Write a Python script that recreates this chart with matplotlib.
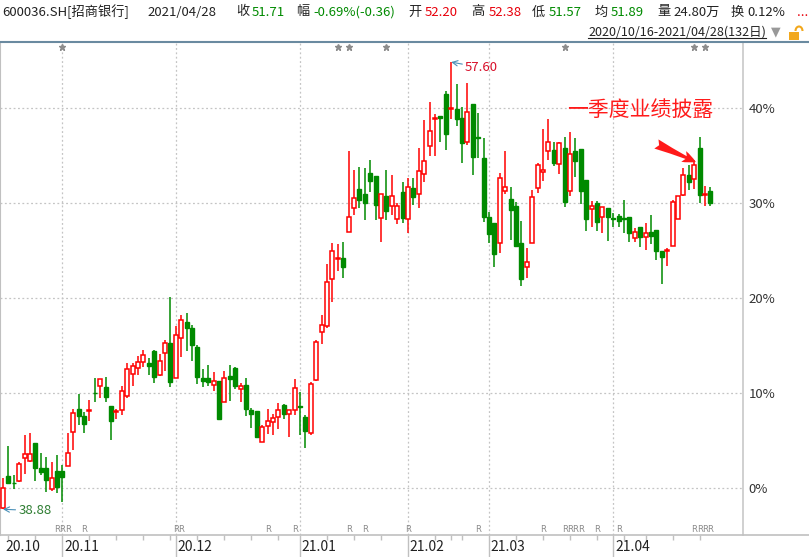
import numpy as np
import pandas as pd
import matplotlib
matplotlib.use("Agg")
from matplotlib import pyplot as plt
from matplotlib.lines import Line2D
from matplotlib.patches import Rectangle, Arc
import matplotlib.transforms as mtransforms

plt.rcParams['font.family'] = ['Noto Sans CJK SC', 'DejaVu Sans']

# ---- data: 600036.SH daily candles 2020/10/16 - 2021/04/28 (132 days)
open_ = [38.95, 40.27, 40.00, 40.06, 41.03, 40.90, 41.65, 40.61, 40.61, 39.73,
         40.48, 40.48, 40.69, 42.11, 43.08, 42.78, 43.01, 43.75, 44.04, 44.00,
         43.20, 42.97, 43.04, 43.62, 44.54, 44.79, 45.04, 45.00, 45.51, 44.50,
         45.42, 45.84, 44.37, 46.05, 46.72, 46.47, 45.67, 44.37, 44.37, 44.08,
         44.25, 43.37, 44.46, 44.79, 43.91, 44.08, 43.04, 42.99, 41.70, 42.36,
         42.53, 42.74, 43.24, 42.87, 43.04, 43.22, 42.74, 42.07, 44.29, 46.30,
         46.55, 48.52, 49.34, 49.40, 50.49, 51.49, 52.29, 52.08, 52.96, 52.83,
         51.07, 52.00, 51.58, 51.03, 52.16, 51.03, 52.33, 52.08, 52.91, 54.09,
         55.20, 55.34, 56.26, 55.64, 55.64, 55.26, 54.25, 55.85, 54.48, 53.58,
         51.11, 50.86, 50.03, 52.20, 51.87, 51.58, 50.03, 49.02, 50.03, 52.33,
         53.00, 53.88, 53.92, 53.33, 54.00, 52.20, 53.88, 53.96, 52.66, 51.45,
         51.70, 51.11, 51.49, 51.07, 51.16, 51.09, 51.11, 50.24, 50.70, 50.28,
         50.49, 50.57, 49.69, 49.69, 49.90, 51.03, 52.04, 52.87, 52.71, 54.00,
         52.02, 52.20]
close = [39.77, 39.98, 39.96, 40.77, 41.19, 41.19, 40.61, 40.44, 40.10, 40.19,
         39.81, 40.23, 41.24, 42.91, 42.78, 42.45, 43.04, 43.73, 44.33, 43.58,
         42.57, 42.99, 43.83, 44.75, 44.88, 45.04, 45.34, 44.88, 44.42, 45.09,
         45.84, 44.21, 46.17, 46.80, 46.47, 45.76, 44.42, 44.25, 44.21, 44.25,
         42.66, 44.37, 44.33, 44.04, 44.04, 43.08, 42.87, 41.90, 42.32, 42.57,
         42.70, 43.04, 42.87, 43.04, 43.96, 43.18, 42.16, 44.12, 45.88, 46.59,
         48.39, 49.69, 49.40, 49.02, 51.11, 51.91, 51.83, 51.70, 52.62, 51.62,
         52.08, 51.37, 52.00, 51.58, 51.07, 52.37, 51.95, 53.04, 53.46, 54.71,
         55.26, 55.28, 54.59, 55.68, 55.22, 54.21, 55.51, 53.63, 54.44, 51.11,
         50.40, 49.57, 52.75, 52.37, 51.41, 49.90, 48.52, 49.23, 51.95, 53.29,
         53.08, 54.25, 53.38, 54.21, 51.74, 53.75, 53.46, 52.20, 51.03, 51.58,
         50.90, 51.53, 51.11, 51.05, 50.95, 51.05, 50.44, 50.49, 50.28, 50.44,
         50.32, 49.69, 49.44, 49.73, 51.74, 52.00, 52.87, 52.58, 53.29, 52.04,
         52.07, 51.71]
high = [40.19, 41.53, 40.31, 40.86, 41.99, 42.07, 41.65, 41.24, 41.07, 40.86,
        41.15, 40.73, 42.07, 43.08, 43.70, 42.95, 43.45, 44.37, 44.33, 44.42,
        43.20, 43.08, 44.04, 45.00, 45.00, 45.30, 45.55, 45.21, 45.55, 45.38,
        45.97, 47.77, 46.55, 47.01, 47.10, 46.59, 45.76, 44.75, 44.92, 44.63,
        44.25, 44.67, 44.92, 44.84, 44.17, 44.37, 43.12, 42.99, 42.41, 43.08,
        42.87, 43.33, 43.29, 43.04, 44.33, 43.79, 42.83, 44.21, 45.97, 47.01,
        49.15, 50.03, 49.98, 50.07, 53.88, 53.08, 53.21, 53.17, 53.50, 52.83,
        52.08, 53.08, 52.87, 51.70, 52.58, 52.75, 52.75, 54.00, 55.18, 55.93,
        55.43, 55.34, 56.39, 57.60, 56.68, 55.72, 56.72, 55.85, 55.47, 54.42,
        51.33, 50.86, 52.96, 53.88, 52.37, 51.74, 50.95, 49.82, 52.24, 53.38,
        54.80, 55.22, 54.25, 54.25, 54.46, 54.67, 54.42, 53.96, 52.66, 51.78,
        51.78, 51.53, 51.49, 51.28, 51.24, 51.83, 51.11, 50.65, 50.70, 50.86,
        51.20, 50.57, 49.69, 49.82, 51.83, 52.00, 53.17, 53.29, 53.50, 54.46,
        52.41, 52.38]
low = [38.88, 39.94, 39.73, 40.02, 40.36, 40.86, 40.06, 40.31, 39.60, 39.64,
       39.56, 39.18, 40.69, 41.36, 42.41, 42.07, 42.57, 43.37, 43.54, 43.37,
       41.78, 42.66, 42.83, 43.54, 44.04, 44.50, 44.84, 44.50, 44.17, 44.46,
       44.67, 44.00, 44.37, 45.25, 45.51, 45.09, 44.12, 44.00, 44.04, 43.83,
       42.66, 43.37, 43.41, 43.91, 43.37, 42.78, 42.28, 41.86, 41.70, 42.03,
       41.99, 42.24, 42.66, 41.90, 42.83, 41.99, 41.44, 41.99, 44.25, 45.80,
       46.47, 47.56, 48.85, 48.56, 50.49, 51.20, 51.49, 50.99, 52.16, 50.99,
       50.07, 50.99, 51.20, 50.82, 50.86, 50.44, 51.62, 51.49, 52.58, 53.67,
       53.67, 54.25, 53.92, 55.22, 54.92, 53.38, 54.13, 52.87, 53.58, 50.90,
       50.03, 49.02, 49.61, 52.08, 50.15, 49.86, 48.23, 48.56, 50.03, 52.12,
       52.62, 53.50, 53.25, 52.91, 51.53, 52.00, 52.79, 51.66, 50.53, 50.70,
       50.53, 50.44, 50.11, 50.70, 50.70, 50.44, 50.07, 50.07, 49.86, 49.73,
       49.98, 49.31, 48.31, 49.06, 49.90, 51.03, 52.00, 52.24, 52.29, 51.70,
       51.57, 51.57]

holidays = ['2021-01-01', '2021-02-11', '2021-02-12', '2021-02-15',
            '2021-02-16', '2021-02-17', '2021-04-05']
dates = pd.bdate_range('2020-10-16', '2021-04-28')
dates = dates[~dates.isin(pd.to_datetime(holidays))]

star_days = [11, 62, 64, 71, 104, 128, 130]
r_days = [10, 11, 12, 15, 32, 33, 49, 54, 64, 67, 75, 88, 100,
          104, 105, 106, 107, 110, 114, 128, 129, 130, 131]

header = [("600036.SH[招商银行]", 2, '#222222'), ("2021/04/28", 147, '#222222'),
          ("收", 236, '#222222'), ("51.71", 252, '#008a00'),
          ("幅", 296, '#222222'), ("-0.69%(-0.36)", 313, '#008a00'),
          ("开", 408, '#222222'), ("52.20", 425, '#e8000b'),
          ("高", 471, '#222222'), ("52.38", 489, '#e8000b'),
          ("低", 532, '#222222'), ("51.57", 549, '#008a00'),
          ("均", 595, '#222222'), ("51.89", 611, '#008a00'),
          ("量", 657, '#222222'), ("24.80万", 673, '#222222'),
          ("换", 731, '#222222'), ("0.12%", 747, '#222222'),
          ("...", 797, '#e8000b')]

# ---- figure
W, H = 809, 557
fig = plt.figure(figsize=(W / 100, H / 100), dpi=100)
fig.patch.set_facecolor('white')

def fx(px):
    return px / W

def fy(py):
    return 1 - py / H

ax = fig.add_axes([0, fy(535), fx(743), (535 - 42) / H])

o = np.array(open_)
c = np.array(close)
h = np.array(high)
l = np.array(low)
base = c[0]
po, pc, ph, pl = [(v / base - 1) * 100 for v in (o, c, h, l)]
x = np.arange(len(c))

red = '#ff0000'
green = '#008a00'
bw = 0.74
for i in x:
    top = max(po[i], pc[i])
    bot = min(po[i], pc[i])
    if pc[i] >= po[i]:
        ax.vlines(i, top, ph[i], color=red, lw=1.1)
        ax.vlines(i, pl[i], bot, color=red, lw=1.1)
        ax.add_patch(Rectangle((i - bw / 2, bot), bw, max(top - bot, 0.05),
                               facecolor='white', edgecolor=red, lw=1.1, zorder=3))
    else:
        ax.vlines(i, pl[i], ph[i], color=green, lw=1.1)
        ax.add_patch(Rectangle((i - bw / 2, bot), bw, max(top - bot, 0.05),
                               facecolor=green, edgecolor=green, lw=1.0, zorder=3))

ax.set_xlim(-3 / 5.4, 740 / 5.4)
ax.set_ylim(-47 / 9.5, 446 / 9.5)

# grid
month_idx = [i for i in range(1, len(dates)) if dates[i].month != dates[i - 1].month]
for yv in [0, 10, 20, 30, 40]:
    ax.axhline(yv, color='#c4c4c4', lw=0.9, ls=(0, (1.5, 2)), zorder=0)
for mi in month_idx:
    ax.axvline(mi, color='#c4c4c4', lw=0.9, ls=(0, (1.5, 2)), zorder=0)

ax.yaxis.tick_right()
ax.set_yticks([0, 10, 20, 30, 40])
ax.set_yticklabels(['0%', '10%', '20%', '30%', '40%'], fontsize=9.5, color='#333333')
ax.tick_params(axis='y', length=0, pad=4)
ax.set_xticks([])
for s in ['top', 'bottom']:
    ax.spines[s].set_visible(False)
ax.spines['left'].set_color('#c0c0c0')
ax.spines['right'].set_color('#c8c8c8')
ax.spines['right'].set_linewidth(1.2)

# star and R markers
trans = mtransforms.blended_transform_factory(ax.transData, ax.transAxes)
ax.plot(star_days, [0.989] * len(star_days), ls='none', marker='*', ms=5,
        color='#8c8c8c', transform=trans, clip_on=False)
for d in r_days:
    ax.text(d, 0.002, 'R', transform=trans, fontsize=6, color='#8a8a8a',
            ha='center', va='bottom', family='DejaVu Sans')

# max / min labels
imax = int(np.argmax(h))
imin = int(np.argmin(l))
ax.annotate(f'{h[imax]:.2f}', xy=(imax, ph[imax]), xytext=(10, -4),
            textcoords='offset points', fontsize=9.5, color='#d8102a',
            ha='left', va='center',
            arrowprops=dict(arrowstyle='->', color='#4a90b8', lw=0.8,
                            shrinkA=0, shrinkB=0))
ax.annotate(f'{l[imin]:.2f}', xy=(imin, pl[imin]), xytext=(11, -1),
            textcoords='offset points', fontsize=9.5, color='#2e7d32',
            ha='left', va='center',
            arrowprops=dict(arrowstyle='->', color='#4a90b8', lw=0.8,
                            shrinkA=0, shrinkB=0))

# annotation for Q1 report
ax.text(104.5, 39.8, '一季度业绩披露', fontsize=15, color='#ff1a1a',
        ha='left', va='center')
ax.annotate('', xy=(128.3, (488 - 162) / 9.5), xytext=(121.0, (488 - 144) / 9.5),
            arrowprops=dict(arrowstyle='fancy,head_width=0.7,head_length=0.8,tail_width=0.6',
                            mutation_scale=12, color='#ff1a1a', lw=0,
                            shrinkA=0, shrinkB=0))

# bottom date strip
ax2 = fig.add_axes([0, 0, fx(743), 22 / H])
ax2.set_xlim(ax.get_xlim())
ax2.set_ylim(0, 22)
ax2.axis('off')
labels_idx = [0] + month_idx
for k, mi in enumerate(labels_idx):
    if k > 0:
        ax2.vlines(mi, 0, 22, color='#c0c0c0', lw=1.0)
    ax2.text(mi + 0.35 if k > 0 else 0.4, 10, dates[mi].strftime('%y.%m'),
             fontsize=10, color='#222222', ha='left', va='center')
week_idx = [i for i in range(1, len(dates))
            if dates[i].isocalendar()[1] != dates[i - 1].isocalendar()[1]
            and i not in month_idx]
ax2.vlines(week_idx, 17, 22, color='#c0c0c0', lw=1.0)

# frame lines
fig.add_artist(Line2D([0, 1], [fy(535), fy(535)], color='#c0c0c0', lw=1.2))
fig.add_artist(Line2D([0, 1], [fy(42), fy(42)], color='#6a8aa0', lw=1.5))

# header
for txt, px, col in header:
    fig.text(fx(px), fy(12), txt, fontsize=9.5, color=col, ha='left', va='center')

fig.text(fx(766), fy(32), '2020/10/16-2021/04/28(132日)', fontsize=9,
         color='#222222', ha='right', va='center')
fig.add_artist(Line2D([fx(588), fx(766)], [fy(38), fy(38)], color='#222222', lw=0.8))
fig.text(fx(776), fy(32), '▼', fontsize=9, color='#999999', ha='center',
         va='center', family='DejaVu Sans')
fig.add_artist(Rectangle((fx(789), fy(40)), fx(10), 8 / H, facecolor='#f2a81d',
                         edgecolor='none', transform=fig.transFigure))
fig.add_artist(Arc((fx(799), fy(31)), fx(7), 9 / H, theta1=0, theta2=180,
                   color='#f2a81d', lw=1.5, transform=fig.transFigure))

fig.savefig('out.png', dpi=100, facecolor='white')
